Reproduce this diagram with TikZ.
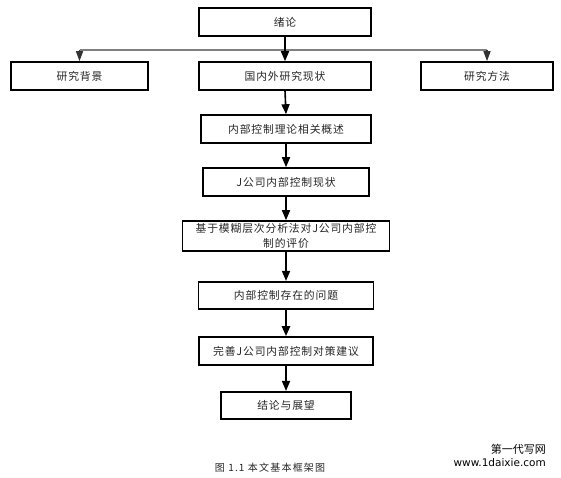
\documentclass[tikz,border=0pt]{standalone}
\usepackage{fontspec}
\setmainfont{Noto Sans CJK SC}
\newfontfamily\boxfont[LetterSpace=8]{Noto Sans CJK SC}
\newfontfamily\capfont[LetterSpace=12]{Noto Sans CJK SC}
\newfontfamily\wmfont{DejaVu Sans}
\usetikzlibrary{arrows.meta}
\begin{document}
\begin{tikzpicture}[x=1pt,y=-1pt,
  box/.style={draw=black, line width=1.6pt, fill=white, minimum height=28pt,
    inner sep=0pt, align=center, font=\boxfont\fontsize{10.8}{14.5}\selectfont, text=black!85},
  arr/.style={-{Triangle[width=8pt,length=10pt]}, line width=1.6pt, draw=black},
  sidearr/.style={-{Triangle[width=7pt,length=10pt]}, line width=1.4pt, draw=black!80},
  bus/.style={line width=1.6pt, draw=black!50},
]
\useasboundingbox (0,0) rectangle (561,477);

\node[box, minimum width=172pt] (xl) at (285,22) {绪论};
\node[box, minimum width=137pt] (bj) at (79.5,76) {研究背景};
\node[box, minimum width=172pt] (gn) at (285,76) {国内外研究现状};
\node[box, minimum width=132pt] (ff) at (487,76) {研究方法};
\node[box, minimum width=170pt] (gs) at (286,129) {内部控制理论相关概述};
\node[box, minimum width=166pt] (xz) at (286,182) {J公司内部控制现状};
\node[box, minimum width=207pt, minimum height=30pt] (pj) at (286,236) {基于模糊层次分析法对J公司内部控\\制的评价};
\node[box, minimum width=175pt, minimum height=27.5pt] (wt) at (286,295.5) {内部控制存在的问题};
\node[box, minimum width=174pt] (jy) at (286,351) {完善J公司内部控制对策建议};
\node[box, minimum width=130pt, minimum height=27.5pt] (zw) at (286,405.5) {结论与展望};

\coordinate (busL) at (79.5,50);
\coordinate (busR) at (487,50);
\draw[bus] (busL) -- (busR);
\draw[sidearr] (busL) -- (bj.north);
\draw[sidearr] (busR) -- (ff.north);
\draw[arr] (xl.south) -- (gn.north);
\draw[arr] (gn.south) -- (gs.north);
\draw[arr] (gs.south) -- (xz.north);
\draw[arr] (xz.south) -- (pj.north);
\draw[arr] (pj.south) -- (wt.north);
\draw[arr, line width=2.4pt] (wt.south) -- (jy.north);
\draw[arr] (jy.south) -- (zw.north);

\node[font=\capfont\fontsize{10}{12}\selectfont, text=black!85] (cap) at (270,468) {图 1.1 本文基本框架图};
\node[anchor=east, font=\fontsize{11}{12}\selectfont, inner sep=0pt] (wm1) at (546,449) {第一代写网};
\node[anchor=east, font=\wmfont\fontsize{10.5}{12}\selectfont, inner sep=0pt] (wm2) at (546,462.5) {www.1daixie.com};
\end{tikzpicture}
\end{document}
